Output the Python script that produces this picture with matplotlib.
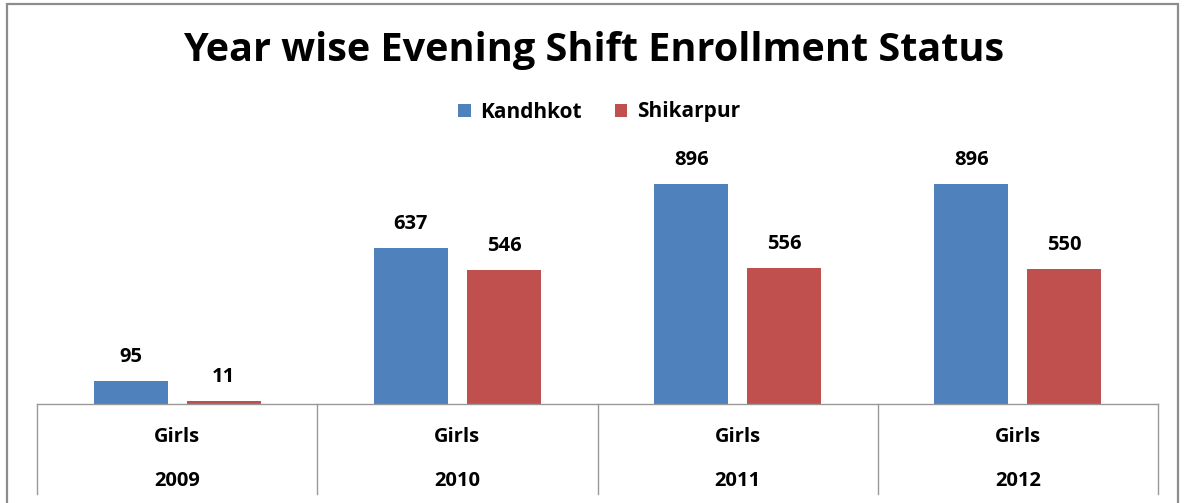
import matplotlib.pyplot as plt
import matplotlib.patches as mpatches
import matplotlib.lines as mlines
import numpy as np

plt.rcParams['font.family'] = ['Open Sans', 'DejaVu Sans']

years = ['2009', '2010', '2011', '2012']
group = 'Girls'
kandhkot = [95, 637, 896, 896]
shikarpur = [11, 546, 556, 550]

W, H = 1188, 503
fig = plt.figure(figsize=(W / 100, H / 100), dpi=100)

def fx(px):
    return px / W

def fy(py):
    return 1 - py / H

# outer chart border
fig.add_artist(mpatches.Rectangle((fx(7), fy(520)), fx(1178) - fx(7), fy(4) - fy(520),
                                  transform=fig.transFigure, fill=False,
                                  edgecolor='#8c8c8c', linewidth=1.6))

ax_left, ax_right, ax_bottom, ax_top = 37, 1158, 404, 158.5
ax = fig.add_axes([fx(ax_left), fy(ax_bottom), fx(ax_right) - fx(ax_left), fy(ax_top) - fy(ax_bottom)])

x = np.arange(len(years))
w = 0.264
off = 0.166
b1 = ax.bar(x - off, kandhkot, w, color='#4F81BD', label='Kandhkot')
b2 = ax.bar(x + off, shikarpur, w, color='#C0504D', label='Shikarpur')
for bars, vals in ((b1, kandhkot), (b2, shikarpur)):
    for r, v in zip(bars, vals):
        ax.text(r.get_x() + r.get_width() / 2, v + 97, str(v), ha='center', va='center',
                fontsize=14.5, fontweight='bold', color='black', clip_on=False)

ax.set_xlim(-0.5, len(years) - 0.5)
ax.set_ylim(0, 1000)
ax.axis('off')

# table-like category axis
gray = '#999999'
fig.add_artist(mlines.Line2D([fx(ax_left), fx(ax_right)], [fy(404), fy(404)],
                             transform=fig.transFigure, color=gray, linewidth=1.0))
cat_w = (ax_right - ax_left) / len(years)
for i in range(len(years) + 1):
    xp = ax_left + i * cat_w
    fig.add_artist(mlines.Line2D([fx(xp), fx(xp)], [fy(404), fy(494)],
                                 transform=fig.transFigure, color=gray, linewidth=1.0))
for i, yr in enumerate(years):
    xc = ax_left + (i + 0.5) * cat_w
    fig.text(fx(xc), fy(437), group, ha='center', va='center', fontsize=14.5, fontweight='bold')
    fig.text(fx(xc), fy(481), yr, ha='center', va='center', fontsize=14.5, fontweight='bold')

fig.text(0.5, fy(50), 'Year wise Evening Shift Enrollment Status', ha='center', va='center',
         fontsize=28.5, fontweight='bold')

fig.legend(handles=[b1, b2], loc='center', bbox_to_anchor=(fx(599), fy(112)), ncol=2,
           frameon=False, prop={'weight': 'bold', 'size': 15}, handlelength=0.6,
           handleheight=0.6, handletextpad=0.45, columnspacing=1.6)

fig.savefig('out.png', dpi=100, facecolor='white')
